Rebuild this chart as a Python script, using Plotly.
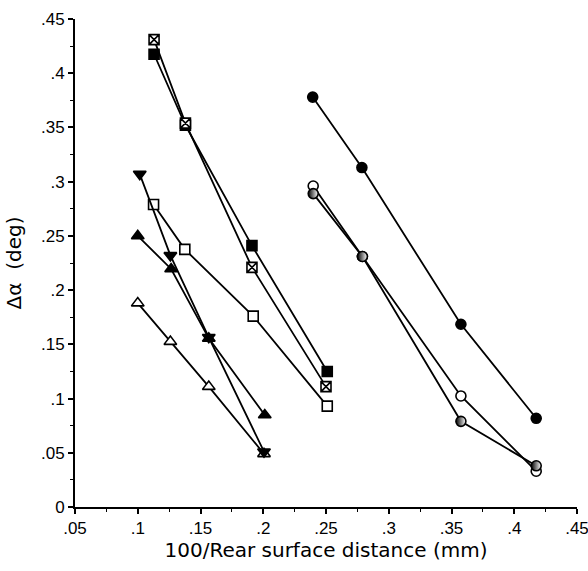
import plotly.graph_objects as go

# Data
sq_x_x = [0.113, 0.138, 0.191, 0.250]
sq_x_y = [0.431, 0.354, 0.221, 0.111]

sq_f_x = [0.113, 0.138, 0.191, 0.251]
sq_f_y = [0.4175, 0.352, 0.241, 0.125]

sq_o_x = [0.1126, 0.1375, 0.192, 0.251]
sq_o_y = [0.279, 0.2376, 0.176, 0.093]

tri_d_x = [0.1016, 0.126, 0.1566, 0.2006]
tri_d_y = [0.307, 0.232, 0.1565, 0.051]

tri_u_x = [0.100, 0.1266, 0.1566, 0.2012]
tri_u_y = [0.250, 0.2195, 0.1555, 0.0848]

tri_o_x = [0.100, 0.126, 0.1566, 0.2006]
tri_o_y = [0.188, 0.1525, 0.111, 0.049]

circ_f_x = [0.2394, 0.2786, 0.3575, 0.4175]
circ_f_y = [0.378, 0.313, 0.1685, 0.0818]

circ_o_x = [0.2398, 0.279, 0.3575, 0.4175]
circ_o_y = [0.296, 0.231, 0.1024, 0.033]

circ_h_x = [0.2398, 0.279, 0.3575, 0.4175]
circ_h_y = [0.289, 0.231, 0.079, 0.038]

x_ticks = [0.05, 0.1, 0.15, 0.2, 0.25, 0.3, 0.35, 0.4, 0.45]
x_tick_text = [".05", ".1", ".15", ".2", ".25", ".3", ".35", ".4", ".45"]
y_ticks = [0, 0.05, 0.1, 0.15, 0.2, 0.25, 0.3, 0.35, 0.4, 0.45]
y_tick_text = ["0", ".05", ".1", ".15", ".2", ".25", ".3", ".35", ".4", ".45"]

fig = go.Figure()
line = dict(color="black", width=1.8)

def add(x, y, symbol, color="black", size=10, gradient=None):
    marker = dict(symbol=symbol, size=size, color=color,
                  line=dict(color="black", width=1.6))
    if gradient:
        marker["gradient"] = gradient
    fig.add_trace(go.Scatter(x=x, y=y, mode="lines+markers", line=line,
                             marker=marker, showlegend=False, hoverinfo="skip"))

add(sq_o_x, sq_o_y, "square", color="white")
add(tri_o_x, tri_o_y, "triangle-up", color="white", size=11)
add(tri_u_x, tri_u_y, "triangle-up", size=11)
add(tri_d_x, tri_d_y, "triangle-down", size=11)
add(sq_f_x, sq_f_y, "square")
add(sq_x_x, sq_x_y, "square-x", color="white")
add(circ_f_x, circ_f_y, "circle")
add(circ_o_x, circ_o_y, "circle", color="white")
add(circ_h_x, circ_h_y, "circle", color="black",
    gradient=dict(type="horizontal", color="white"))

axis_common = dict(
    showgrid=False, zeroline=False, showline=True, linecolor="black",
    linewidth=2, ticks="outside", ticklen=5, tickwidth=1.5, tickcolor="black",
    tickfont=dict(family="Liberation Sans Narrow, Arial Narrow, sans-serif",
                  size=17, color="black"),
    minor=dict(ticks="outside", ticklen=3, tickcolor="black", tickwidth=1),
    automargin=False, ticklabeloverflow="allow",
)

title_font = dict(family="DejaVu Sans", size=20, color="black")

fig.update_layout(
    width=588, height=571,
    margin=dict(l=75, r=11, t=19, b=64),
    paper_bgcolor="white", plot_bgcolor="white",
    xaxis=dict(range=[0.05, 0.45], tickvals=x_ticks, ticktext=x_tick_text,
               title=dict(text="100/Rear surface distance (mm)",
                          font=title_font, standoff=4),
               minor_dtick=0.025, **axis_common),
    yaxis=dict(range=[0, 0.45], tickvals=y_ticks, ticktext=y_tick_text,
               title=dict(text="Δα  (deg)", font=title_font, standoff=14),
               minor_dtick=0.025, **axis_common),
)

fig.write_html("out.html", config={"displayModeBar": False},
               post_script="document.body.style.margin='0';document.body.style.overflow='hidden';")
